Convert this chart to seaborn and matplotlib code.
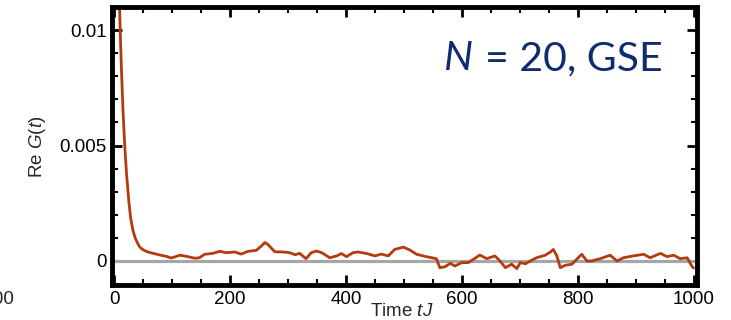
import matplotlib
matplotlib.use("Agg")
import matplotlib.pyplot as plt
import seaborn as sns
import pandas as pd
from matplotlib.ticker import MultipleLocator

# ---- data ----
time_tJ = [5, 9, 12, 15, 18, 21, 25, 28, 32, 36, 40, 44, 50, 57, 64, 72, 80, 90, 98, 105,
           113, 125, 139, 147, 156, 170, 182, 193, 208, 219, 231, 245, 254, 260, 265, 277,
           291, 303, 312, 320, 331, 340, 349, 358, 372, 384, 392, 401, 412, 421, 436, 450,
           461, 473, 484, 499, 510, 522, 533, 548, 556, 562, 571, 580, 588, 600, 611, 620,
           631, 643, 657, 666, 675, 686, 695, 701, 710, 718, 729, 744, 753, 758, 764, 770,
           778, 790, 801, 807, 816, 824, 839, 856, 868, 879, 896, 914, 925, 943, 954, 966,
           977, 989, 997, 1000]
re_G = [0.016, 0.011, 0.0085, 0.0065, 0.005, 0.0038, 0.0026, 0.0019, 0.00134, 0.001,
        0.00078, 0.0006, 0.00048, 0.0004, 0.00035, 0.0003, 0.00025, 0.0002, 0.00013, 0.00018,
        0.00025, 0.0002, 0.00012, 0.00014, 0.00029, 0.00033, 0.00042, 0.00036, 0.00039, 0.0003,
        0.00042, 0.00046, 0.00065, 0.0008, 0.00072, 0.0004, 0.00039, 0.00036, 0.00027, 0.00033,
        0.0001, 0.00036, 0.00043, 0.00036, 0.00014, 0.00022, 0.00032, 0.00019, 0.00036, 0.00039,
        0.00032, 0.00022, 0.0003, 0.00022, 0.0005, 0.0006, 0.00048, 0.00029, 0.00022, 0.00014,
        0.0001, -0.00029, -0.00025, -0.0001, -0.00022, -0.00007, -0.00007, 0.00007, 0.00026,
        0.0001, 0.00022, 0.0, -0.00029, -0.00014, -0.00033, -0.00007, -0.00012, 0.0, 0.00014,
        0.00025, 0.00039, 0.0005, 0.00022, -0.00029, -0.00019, -0.00014, 0.00014, 0.00029, 0.0,
        0.0, 0.0001, 0.00025, 0.0, 0.00014, 0.00022, 0.00029, 0.00014, 0.00033, 0.00019,
        0.00025, 0.0001, 0.00014, -0.00022, -0.0003]
x_ticks = [0, 200, 400, 600, 800, 1000]
y_ticks = [0, 0.005, 0.01]
y_tick_labels = ["0", "0.005", "0.01"]

df = pd.DataFrame({"t": time_tJ, "G": re_G})

sns.set_theme(style="ticks")
plt.rcParams["font.family"] = ["Liberation Sans", "DejaVu Sans"]
plt.rcParams["mathtext.fontset"] = "custom"
plt.rcParams["mathtext.rm"] = "Liberation Sans"
plt.rcParams["mathtext.it"] = "Liberation Sans:italic"

fig = plt.figure(figsize=(7.31, 3.2), dpi=100)
ax = fig.add_axes([112 / 731, 1 - 285 / 320, (697 - 112) / 731, (285 - 7) / 320])

ax.axhline(0, color="#a6a6a6", lw=2.3, zorder=1)
sns.lineplot(data=df, x="t", y="G", ax=ax, color="#b23c0e", lw=2.0, zorder=2)

ax.set_xlim(-4, 1006)
ax.set_ylim(-0.00104, 0.011)
ax.set_xticks(x_ticks)
ax.set_yticks(y_ticks)
ax.set_yticklabels(y_tick_labels)
ax.xaxis.set_minor_locator(MultipleLocator(50))
ax.yaxis.set_minor_locator(MultipleLocator(0.001))
ax.tick_params(which="both", direction="in", top=True, right=True, color="black",
               labelsize=13.5, labelcolor="black")
ax.tick_params(which="major", length=7, width=2, pad=4)
ax.tick_params(which="minor", length=4, width=1.5)
for s in ax.spines.values():
    s.set_linewidth(3.5)
    s.set_color("black")

ax.set_xlabel("")
ax.set_ylabel("")
fig.text(402 / 731, 1 - 311 / 320, "Time $\\it{tJ}$", ha="center", va="center", fontsize=13.5)
fig.text(38 / 731, 1 - 147 / 320, "Re $\\it{G}$($\\it{t}$)", ha="center", va="center",
         rotation=90, fontsize=13.5)
fig.text(444 / 731, 1 - 59 / 320, "N", fontsize=29.5, style="italic",
         color="#0e2d6e", family=["Lato", "DejaVu Sans"], ha="left", va="center")
fig.text(485 / 731, 1 - 59 / 320, "= 20, GSE", fontsize=29.5,
         color="#0e2d6e", family=["Lato", "DejaVu Sans"], ha="left", va="center")
fig.text(14 / 731, 1 - 300 / 320, "1000", ha="right", va="center", fontsize=13.5)

fig.savefig("out.png", dpi=100)
